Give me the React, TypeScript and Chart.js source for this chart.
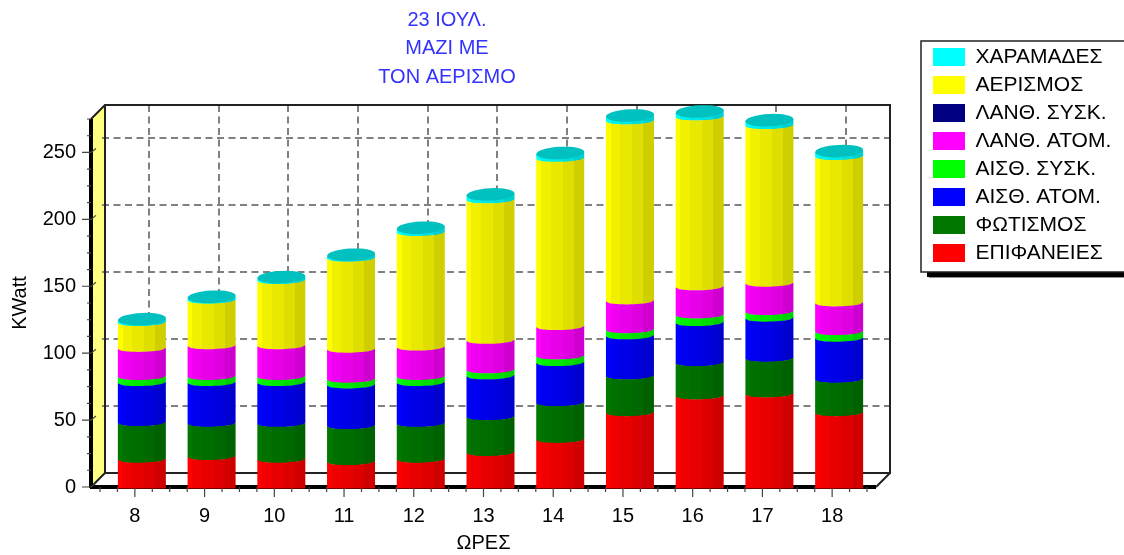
import React, { useEffect, useRef } from "react";
import { Chart, registerables, BarController, BarElement } from "chart.js";

const hours = [8, 9, 10, 11, 12, 13, 14, 15, 16, 17, 18];
const titleLines = ["23 ΙΟΥΛ.", "ΜΑΖΙ ΜΕ", "ΤΟΝ ΑΕΡΙΣΜΟ"];
const surfaces = [18.2, 20.2, 18.2, 16.4, 18.2, 23.2, 33, 53, 65.5, 67, 53];
const lighting = [27.4, 24.9, 26.8, 26.9, 26.8, 26.8, 27.5, 27.5, 24.9, 26.7, 25];
const sensibleIndividual = [29.9, 30.4, 30.5, 30.4, 30.5, 30.5, 29.9, 29.9, 29.9, 29.9, 30.6];
const sensibleShared = [4.5, 4.5, 4.5, 4.3, 4.5, 4.5, 5, 4.6, 5.7, 4.9, 5];
const latentIndividual = [21, 23, 23, 22.4, 22, 22, 21.9, 21.5, 21, 21.2, 21.4];
const latentShared = [0, 0, 0, 0, 0, 0, 0, 0, 0, 0, 0];
const ventilation = [19.3, 34, 48.7, 68, 85.6, 105, 125.7, 134.5, 127, 117.8, 109.4];
const gaps = [0.5, 0.5, 0.5, 0.5, 1.5, 2, 2, 2, 2, 2, 2];

const FONT = "'Liberation Sans', Arial, sans-serif";
const DEPTH = 14;
const SHIFT = DEPTH / 2;
const FACETS = 14;
const CAP_RY = 6.2;
const SHADES: [number, number, number][] = [
  [0, 0.1, 1],
  [0.1, 0.3, 0.94],
  [0.3, 0.55, 0.91],
  [0.55, 0.78, 0.87],
  [0.78, 1, 0.81],
];

function shade(hex: string, f: number) {
  const n = parseInt(hex.slice(1), 16);
  const c = [(n >> 16) & 255, (n >> 8) & 255, n & 255].map((v) => Math.round(v * f));
  return `rgb(${c[0]},${c[1]},${c[2]})`;
}

class CylinderBar extends BarElement {
  static id = "cylinderBar";
  static defaults = { ...BarElement.defaults, capColor: "" };
  area: any;
  draw(ctx: CanvasRenderingContext2D) {
    const { x, y, base, width } = (this as any).getProps(["x", "y", "base", "width"]);
    const options = (this as any).options;
    const color = options.backgroundColor as string;
    const cap = options.capColor as string;
    if (Math.abs(base - y) < 0.01 && !cap) return;
    const cx = x + SHIFT;
    const r = width / 2;
    const ry = 3.4;
    const bottom = this.area ? this.area.bottom : 487;
    const grad = ctx.createLinearGradient(cx - r, 0, cx + r, 0);
    SHADES.forEach(([a, b, f]) => {
      const c = shade(color, f);
      grad.addColorStop(a, c);
      grad.addColorStop(b, c);
    });
    const curve = (yc: number, u: number) => yc - ry + ry * Math.sqrt(1 - u * u) - 0.6 * u;
    ctx.save();
    ctx.fillStyle = grad;
    ctx.beginPath();
    for (let i = 0; i <= FACETS; i++) {
      const u = -1 + (2 * i) / FACETS;
      ctx.lineTo(cx + u * r, cap ? y - CAP_RY - 1.2 * u : curve(y, u));
    }
    for (let i = FACETS; i >= 0; i--) {
      const u = -1 + (2 * i) / FACETS;
      ctx.lineTo(cx + u * r, base >= bottom - 0.5 ? bottom + 1.5 : curve(base, u) + 0.4);
    }
    ctx.closePath();
    ctx.fill();
    if (cap) {
      ctx.fillStyle = cap;
      ctx.beginPath();
      ctx.ellipse(cx, y - CAP_RY, r, CAP_RY, -0.05, 0, Math.PI * 2);
      ctx.fill();
    }
    ctx.restore();
  }
}

class CylinderController extends BarController {
  static id = "cylinder";
  static defaults = { ...BarController.defaults, dataElementType: "cylinderBar" };
  static overrides = BarController.overrides;
  draw() {
    const area = (this as any).chart.chartArea;
    (this as any)._cachedMeta.data.forEach((el: any) => {
      el.area = area;
    });
    super.draw();
  }
}

Chart.register(...registerables, CylinderBar, CylinderController);

const frame3d = {
  id: "frame3d",
  afterLayout(chart: any) {
    const t = chart.titleBlock;
    if (t) {
      t.left = 0;
      t.right = 894;
    }
    const l = chart.legend;
    if (l) {
      l.left = 926;
      l.right = 1124;
      l.top = 39.5;
      l.bottom = 272;
      l.width = 198;
      l.height = 232.5;
    }
  },
  beforeDraw(chart: any) {
    const ctx: CanvasRenderingContext2D = chart.ctx;
    ctx.save();
    ctx.fillStyle = "#000";
    ctx.fillRect(927, 272, 197, 5);
    ctx.fillStyle = "#909090";
    ctx.fillRect(929, 277, 195, 1);
    ctx.fillStyle = "#fff";
    ctx.fillRect(921, 41, 203, 231);
    ctx.strokeStyle = "#222";
    ctx.lineWidth = 1.5;
    ctx.beginPath();
    ctx.moveTo(1124, 41);
    ctx.lineTo(921, 41);
    ctx.lineTo(921, 272);
    ctx.lineTo(1124, 272);
    ctx.stroke();
    ctx.restore();
  },
  beforeDatasetsDraw(chart: any) {
    const ctx: CanvasRenderingContext2D = chart.ctx;
    const { left, right, top, bottom } = chart.chartArea;
    const xs = chart.scales.x;
    const ys = chart.scales.y;
    const d = DEPTH;
    ctx.save();
    ctx.fillStyle = "#FFFF80";
    ctx.beginPath();
    ctx.moveTo(left, top);
    ctx.lineTo(left + d, top - d);
    ctx.lineTo(left + d, bottom - d);
    ctx.lineTo(left, bottom);
    ctx.closePath();
    ctx.fill();

    ctx.strokeStyle = "#808080";
    ctx.lineWidth = 2;
    ctx.setLineDash([7, 4.5]);
    ys.ticks.forEach((t: any) => {
      if (t.value === 0) return;
      const py = Math.round(ys.getPixelForValue(t.value)) - d;
      ctx.beginPath();
      ctx.moveTo(left + 11, py);
      ctx.lineTo(right + d, py);
      ctx.stroke();
    });
    xs.ticks.forEach((t: any) => {
      const px = Math.round(xs.getPixelForValue(t.value)) + d;
      ctx.beginPath();
      ctx.moveTo(px, top - d);
      ctx.lineTo(px, bottom - d);
      ctx.stroke();
    });
    ctx.setLineDash([]);

    ctx.strokeStyle = "#222";
    ctx.lineWidth = 2;
    ctx.beginPath();
    ctx.moveTo(left, top);
    ctx.lineTo(left + d, top - d);
    ctx.lineTo(right + d, top - d);
    ctx.lineTo(right + d, bottom - d);
    ctx.lineTo(left + d, bottom - d);
    ctx.lineTo(left + d, top - d);
    ctx.moveTo(left, bottom);
    ctx.lineTo(left + d, bottom - d);
    ctx.moveTo(right, bottom);
    ctx.lineTo(right + d, bottom - d);
    ctx.stroke();

    ctx.strokeStyle = "#000";
    ctx.lineWidth = 4;
    ctx.beginPath();
    ctx.moveTo(left, top);
    ctx.lineTo(left, bottom + 1);
    ctx.moveTo(left - 1, bottom);
    ctx.lineTo(right, bottom);
    ctx.stroke();

    ctx.strokeStyle = "#444";
    ctx.lineWidth = 1.2;
    ctx.beginPath();
    for (let v = 0; v <= ys.max; v += 12.5) {
      const py = ys.getPixelForValue(v);
      const major = v % 50 === 0;
      ctx.moveTo(left - (major ? 9 : 4), py);
      ctx.lineTo(left, py);
      if (major) ctx.lineTo(left + 5, py - 4);
    }
    for (let q = Math.ceil(xs.min * 4) / 4; q <= xs.max; q += 0.25) {
      const px = xs.getPixelForValue(q);
      ctx.moveTo(px, bottom);
      ctx.lineTo(px, bottom + (q % 1 === 0 ? 10 : 5));
    }
    ctx.stroke();
    ctx.restore();
  },
};

const seriesDefs: { label: string; values: number[]; color: string; capColor?: string }[] = [
  { label: "ΕΠΙΦΑΝΕΙΕΣ", values: surfaces, color: "#FF0000" },
  { label: "ΦΩΤΙΣΜΟΣ", values: lighting, color: "#007800" },
  { label: "ΑΙΣΘ. ΑΤΟΜ.", values: sensibleIndividual, color: "#0000FF" },
  { label: "ΑΙΣΘ. ΣΥΣΚ.", values: sensibleShared, color: "#00FF00" },
  { label: "ΛΑΝΘ. ΑΤΟΜ.", values: latentIndividual, color: "#FF00FF" },
  { label: "ΛΑΝΘ. ΣΥΣΚ.", values: latentShared, color: "#000080" },
  { label: "ΑΕΡΙΣΜΟΣ", values: ventilation, color: "#FFFF00" },
  { label: "ΧΑΡΑΜΑΔΕΣ", values: gaps, color: "#00FFFF", capColor: "#00C0C0" },
];

export default function App() {
  const ref = useRef<HTMLCanvasElement>(null);
  useEffect(() => {
    if (!ref.current) return;
    const chart = new Chart(ref.current, {
      type: "cylinder" as any,
      data: {
        datasets: seriesDefs.map((s) => ({
          label: s.label,
          data: hours.map((h, i) => ({ x: h, y: s.values[i] })),
          backgroundColor: s.color,
          capColor: s.capColor || "",
          borderWidth: 0,
          barThickness: 48,
          clip: false,
        })) as any,
      },
      options: {
        responsive: false,
        animation: false,
        layout: { padding: { left: 0, right: 248, top: 0, bottom: 0 } },
        font: { family: FONT },
        scales: {
          x: {
            type: "linear",
            stacked: true,
            offset: false,
            min: 7.371,
            max: 18.629,
            grid: { display: false, offset: false, drawTicks: true, tickLength: 12 },
            border: { display: false },
            ticks: {
              stepSize: 1,
              includeBounds: false,
              color: "#000",
              padding: 5,
              maxRotation: 0,
              font: { family: FONT, size: 20 },
            },
            title: {
              display: true,
              text: "ΩΡΕΣ",
              color: "#000",
              font: { family: FONT, size: 20 },
              padding: { top: 0, bottom: 0 },
            },
            afterFit(scale: any) {
              scale.height = 68;
            },
          },
          y: {
            type: "linear",
            stacked: true,
            min: 0,
            max: 275,
            grid: { display: false, drawTicks: true, tickLength: 12 },
            border: { display: false },
            ticks: {
              stepSize: 50,
              includeBounds: false,
              color: "#000",
              padding: 3,
              font: { family: FONT, size: 20 },
            },
            title: {
              display: true,
              text: "KWatt",
              color: "#000",
              font: { family: FONT, size: 20 },
              padding: { top: 8, bottom: 0 },
            },
            afterFit(scale: any) {
              scale.width = 91;
            },
          },
        },
        plugins: {
          title: {
            display: true,
            text: titleLines,
            color: "#3333FF",
            font: { family: FONT, size: 20, weight: "normal", lineHeight: 28.5 / 20 },
            padding: { top: 6, bottom: 27.5 },
          },
          legend: {
            display: true,
            position: "chartArea",
            align: "start",
            reverse: true,
            labels: {
              boxWidth: 32,
              boxHeight: 18,
              padding: 7,
              color: "#000",
              font: { family: FONT, size: 21 },
            },
          },
          tooltip: { enabled: false },
        },
      } as any,
      plugins: [frame3d],
    });
    return () => chart.destroy();
  }, []);
  return (
    <canvas
      ref={ref}
      width={1124}
      height={555}
      style={{ position: "absolute", left: 0, top: 0, display: "block" }}
    />
  );
}
